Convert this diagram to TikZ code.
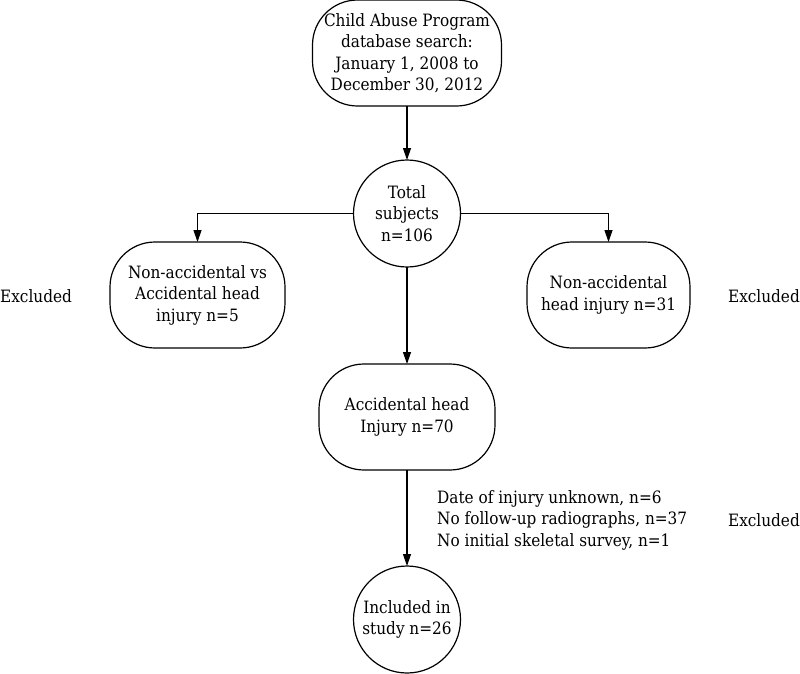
\documentclass[tikz,border=0pt]{standalone}
\usepackage{fontspec}
\setmainfont{DejaVu Serif Condensed}
\usetikzlibrary{positioning,arrows.meta}

\begin{document}
\begin{tikzpicture}[x=1pt, y=-1pt, >={Triangle[length=12pt,width=8pt]},
    every node/.style={font=\fontsize{17}{21.5}\selectfont, align=center},
    box/.style={draw, line width=1.2pt, rounded corners=45pt, minimum height=106pt, inner sep=0pt, outer sep=0pt},
    disc/.style={draw, line width=1.2pt, shape=circle, minimum size=107pt, inner sep=0pt, outer sep=0pt},
    link/.style={->, line width=1.2pt}]
  \useasboundingbox (0,0) rectangle (800,673);
  % main column
  \node (search) [box, minimum width=189pt] at (407,53) {Child Abuse Program\\database search:\\January 1, 2008 to\\December 30, 2012};
  \node (total) [disc, below=54pt of search] {Total\\subjects\\n=106};
  \node (headinj) [box, minimum width=176pt, below=97pt of total] {Accidental head\\Injury n=70};
  \node (included) [disc, below=96pt of headinj] {Included in\\study n=26};
  % side branches
  \node (nonvs) [box, minimum width=175pt] at (197.5,295) {Non-accidental vs\\Accidental head\\injury n=5};
  \node (nonacc) [box, minimum width=163pt] at (608.5,295) {Non-accidental\\head injury n=31};
  \node (reasons) [anchor=west, align=left, inner sep=0pt] at (437,520) {Date of injury unknown, n=6\\No follow-up radiographs, n=37\\No initial skeletal survey, n=1};
  \node (exclleft) [anchor=west, inner sep=0pt] at (0,296) {Excluded};
  \node (exclright) [anchor=east, inner sep=0pt] at (800,296) {Excluded};
  \node (exclbottom) [anchor=east, inner sep=0pt] at (800,520) {Excluded};

  \draw[link] (search) -- (total);
  \draw[link] (total.west) -| (nonvs.north);
  \draw[link] (total.east) -| (nonacc.north);
  \draw[link] (total) -- (headinj);
  \draw[link] (headinj) -- (included);
\end{tikzpicture}
\end{document}
